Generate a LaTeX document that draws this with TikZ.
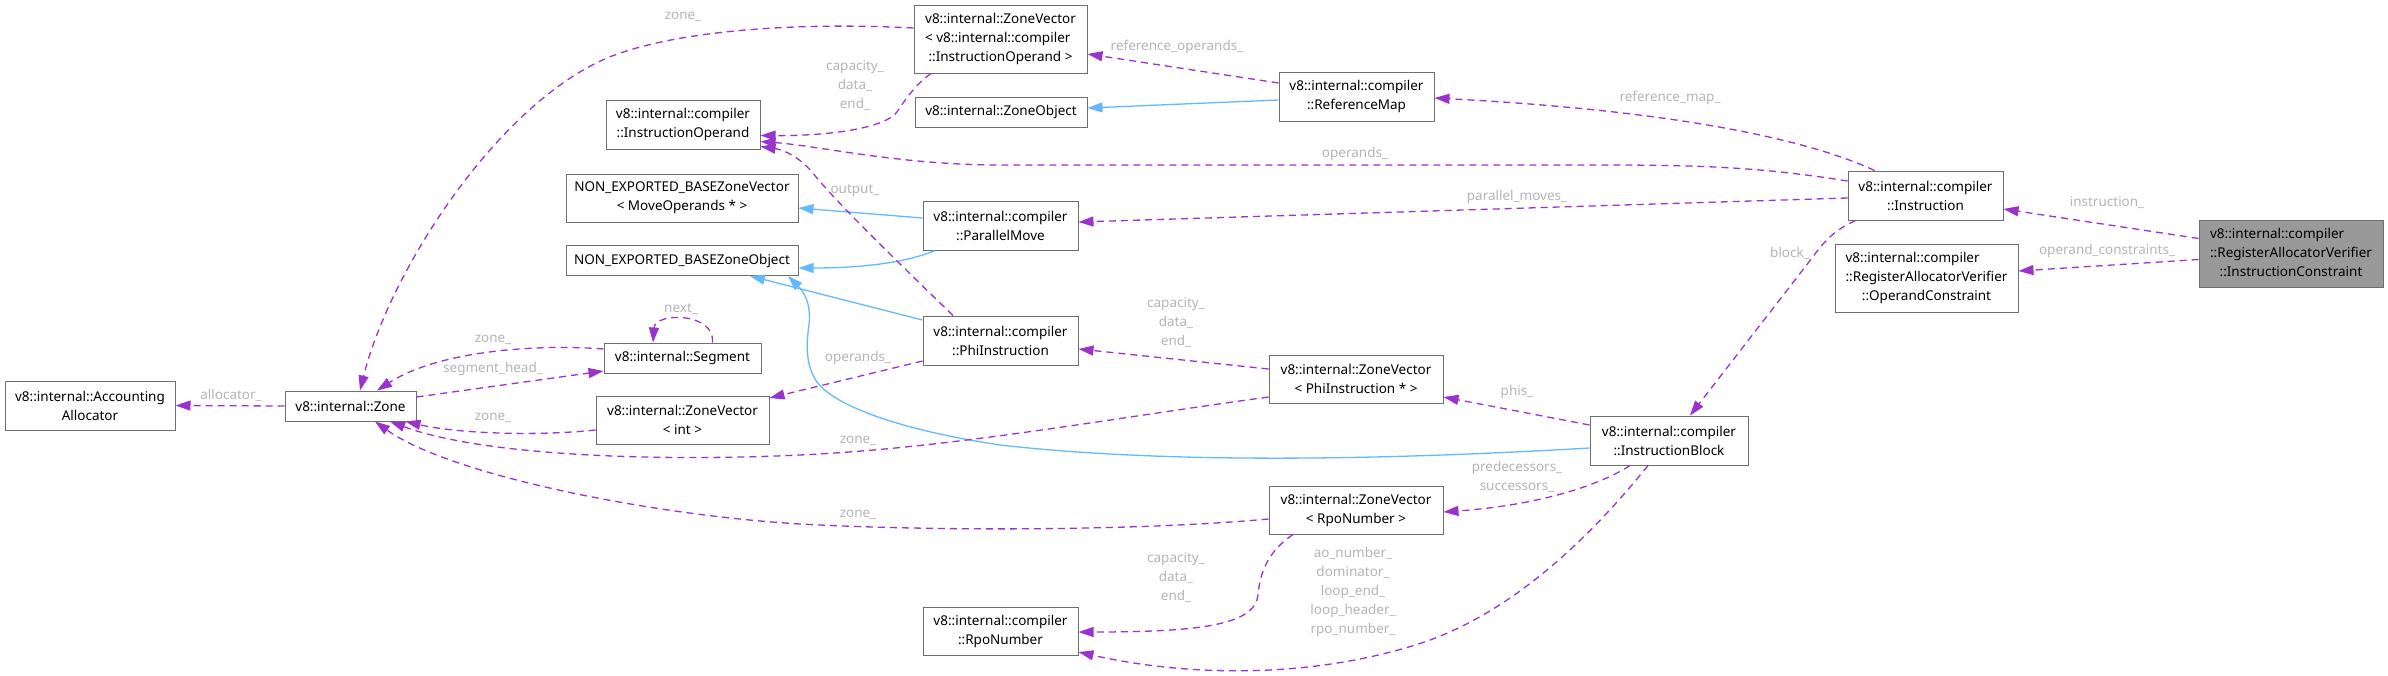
\documentclass[tikz,border=0pt]{standalone}
\usepackage{fontspec}
\setmainfont{Noto Sans}
\usetikzlibrary{arrows.meta,calc}
\definecolor{edgepurple}{HTML}{9A32CD}
\definecolor{inhblue}{HTML}{63B8FF}
\definecolor{boxgray}{HTML}{6E6E6E}
\definecolor{lblgray}{HTML}{B4B4B4}
\definecolor{mainfill}{HTML}{999999}
\newcommand{\threelines}[3]{\begin{tabular}{@{}l@{}}#1\\#2\\\multicolumn{1}{@{}c@{}}{#3}\end{tabular}}
\tikzset{
  cls/.style={draw=boxgray, line width=1pt, fill=white, inner sep=0pt, align=center,
    font=\fontsize{13.5}{19}\selectfont},
  maincls/.style={cls, fill=mainfill},
  dep/.style={draw=edgepurple, line width=1.3pt, dash pattern=on 7pt off 5pt,
    -{Triangle[length=15pt,width=10pt]}},
  inh/.style={draw=inhblue, line width=1.3pt, -{Triangle[length=15pt,width=10pt]}},
  lbl/.style={text=lblgray, inner sep=0pt, align=center, font=\fontsize{13.5}{19}\selectfont}
}
\begin{document}
\begin{tikzpicture}[x=1pt,y=-1pt]
\useasboundingbox (0,0) rectangle (2388,675);
% nodes
\node[maincls, minimum width=184pt, minimum height=67pt] (ic) at (2291,253.5) {\threelines{v8::internal::compiler}{::RegisterAllocatorVerifier}{::InstructionConstraint}};
\node[cls, minimum width=155pt, minimum height=49pt] (instr) at (1925.5,195.5) {v8::internal::compiler\\::Instruction};
\node[cls, minimum width=183pt, minimum height=68pt] (oc) at (1926.5,278) {\threelines{v8::internal::compiler}{::RegisterAllocatorVerifier}{::OperandConstraint}};
\node[cls, minimum width=155pt, minimum height=49pt] (refmap) at (1356.5,96.5) {v8::internal::compiler\\::ReferenceMap};
\node[cls, minimum width=173pt, minimum height=68pt] (zvio) at (1000.5,39) {\threelines{v8::internal::ZoneVector}{< v8::internal::compiler}{::InstructionOperand >}};
\node[cls, minimum width=172pt, minimum height=30pt] (zoneobj) at (1001,112) {v8::internal::ZoneObject};
\node[cls, minimum width=154pt, minimum height=49pt] (io) at (683,124.5) {v8::internal::compiler\\::InstructionOperand};
\node[cls, minimum width=232pt, minimum height=48pt] (nebzv) at (682,198) {NON\_EXPORTED\_BASEZoneVector\\< MoveOperands * >};
\node[cls, minimum width=232pt, minimum height=30pt] (nebzo) at (682,260.5) {NON\_EXPORTED\_BASEZoneObject};
\node[cls, minimum width=155pt, minimum height=49pt] (pm) at (1000.5,225.5) {v8::internal::compiler\\::ParallelMove};
\node[cls, minimum width=155pt, minimum height=49pt] (phi) at (1000.5,340.5) {v8::internal::compiler\\::PhiInstruction};
\node[cls, minimum width=174pt, minimum height=48pt] (zvphi) at (1356,379) {v8::internal::ZoneVector\\< PhiInstruction * >};
\node[cls, minimum width=174pt, minimum height=48pt] (zvrpo) at (1356,510) {v8::internal::ZoneVector\\< RpoNumber >};
\node[cls, minimum width=155pt, minimum height=48pt] (rpo) at (1000.5,631) {v8::internal::compiler\\::RpoNumber};
\node[cls, minimum width=158pt, minimum height=49pt] (ib) at (1669,440.5) {v8::internal::compiler\\::InstructionBlock};
\node[cls, minimum width=157pt, minimum height=30pt] (segment) at (682.5,358) {v8::internal::Segment};
\node[cls, minimum width=173pt, minimum height=48pt] (zvint) at (682.5,420) {v8::internal::ZoneVector\\< int >};
\node[cls, minimum width=131pt, minimum height=30pt] (zone) at (350.5,406) {v8::internal::Zone};
\node[cls, minimum width=170pt, minimum height=49pt] (aa) at (90,405.5) {v8::internal::Accounting\\Allocator};

% inheritance (blue)
\draw[inh] ([yshift=-3.5pt]refmap.west) -- ([yshift=4pt]zoneobj.east);
\draw[inh] ([yshift=7.5pt]pm.west) -- ([yshift=-10pt]nebzv.east);
\draw[inh] ([xshift=-65.5pt]pm.south) .. controls (900,265) and (850,268) .. ([yshift=-7.5pt]nebzo.east);
\draw[inh] ([yshift=20.5pt]phi.west) -- ([xshift=68pt]nebzo.south);
\draw[inh] ([yshift=-7.5pt]ib.west) .. controls (1350,462) and (1150,462) .. (1000,445)
  .. controls (900,430) and (830,405) .. (815,379)
  .. controls (806,363) and (806,345) .. (809,325)
  .. controls (812,300) and (800,288) .. ([xshift=106pt]nebzo.south);

% usage (purple dashed)
\draw[dep] ([yshift=15pt]ic.west) -- ([yshift=-13.5pt]instr.east);
\draw[dep] ([yshift=-6pt]ic.west) -- ([yshift=7pt]oc.east);
\draw[dep] ([xshift=-51pt]instr.north) .. controls (1820,145) and (1700,112) .. ([yshift=-1.5pt]refmap.east);
\draw[dep] ([yshift=14.5pt]instr.west) .. controls (1760,167) and (1700,165) .. (1600,165)
  -- (1000,165) .. controls (900,165) and (820,146) .. ([yshift=-17pt]io.east);
\draw[dep] ([yshift=-2.5pt]instr.west) -- ([yshift=3.5pt]pm.east);
\draw[dep] ([xshift=-70pt]instr.south) .. controls (1835,230) and (1825,240) .. (1812,258)
  -- ([xshift=21pt]ib.north);
\draw[dep] ([yshift=13.5pt]refmap.west) -- ([yshift=-15pt]zvio.east);
\draw[dep] ([xshift=-69.5pt]zvio.south) .. controls (915,85) and (905,100) .. (897,112)
  .. controls (885,128) and (830,136) .. ([yshift=-11pt]io.east);
\draw[dep] ([yshift=11pt]zvio.west) .. controls (800,22) and (680,30) .. (612,56)
  .. controls (500,100) and (390,270) .. ([xshift=9.5pt]zone.north);
\draw[dep] ([xshift=-47.5pt]phi.north) .. controls (880,245) and (830,195) .. (812,172)
  .. controls (800,158) and (785,150) .. ([yshift=-22pt]io.east);
\draw[dep] ([yshift=-20.5pt]phi.west) -- ([yshift=22pt]zvint.east);
\draw[dep] ([yshift=10pt]zvphi.west) -- ([yshift=-8.5pt]phi.east);
\draw[dep] ([yshift=-18pt]zvphi.west) .. controls (1100,420) and (950,448) .. (800,455)
  .. controls (650,462) and (480,455) .. ([xshift=39.5pt]zone.south);
\draw[dep] ([yshift=15.5pt]ib.west) -- ([yshift=-18pt]zvphi.east);
\draw[dep] ([xshift=-39pt]ib.south) .. controls (1600,485) and (1540,505) .. ([yshift=-2pt]zvrpo.east);
\draw[dep] ([xshift=-21pt]ib.south) .. controls (1580,550) and (1500,620) .. (1412,646)
  .. controls (1300,680) and (1180,675) .. ([yshift=-21pt]rpo.east);
\draw[dep] ([xshift=-63pt]zvrpo.south) .. controls (1270,550) and (1260,570) .. (1258,595)
  .. controls (1255,625) and (1200,632) .. ([yshift=-1pt]rpo.east);
\draw[dep] ([yshift=-9pt]zvrpo.west) .. controls (1150,530) and (950,532) .. (800,524)
  .. controls (650,515) and (450,475) .. ([xshift=24.5pt]zone.south);
\draw[dep] ([yshift=-10pt]zvint.west) .. controls (540,436) and (460,434) .. ([xshift=55pt]zone.south);
\draw[dep] ([yshift=9pt]segment.west) .. controls (540,344) and (440,350) .. ([xshift=26.5pt]zone.north);
\draw[dep] ([yshift=9pt]zone.east) -- ([yshift=-13pt]segment.west);
\draw[dep] ([xshift=30pt]segment.north) .. controls (715,312) and (655,312) .. ([xshift=-29.5pt]segment.north);
\draw[dep] (zone.west) -- (aa.east);

% labels
\node[lbl] (l1) at (2107,203) {instruction\_};
\node[lbl] (l2) at (2107,251) {operand\_constraints\_};
\node[lbl] (l3) at (1670,98) {reference\_map\_};
\node[lbl] (l4) at (1355,154) {operands\_};
\node[lbl] (l5) at (1517,197) {parallel\_moves\_};
\node[lbl] (l6) at (1790,253) {block\_};
\node[lbl] (l7) at (1177,47) {reference\_operands\_};
\node[lbl] (l8) at (855,86) {capacity\_\\data\_\\end\_};
\node[lbl] (l9) at (683,17) {zone\_};
\node[lbl] (l10) at (855,191) {output\_};
\node[lbl] (l11) at (858,358) {operands\_};
\node[lbl] (l12) at (1176,323) {capacity\_\\data\_\\end\_};
\node[lbl] (l13) at (858,441) {zone\_};
\node[lbl] (l14) at (1517,392) {phis\_};
\node[lbl] (l15) at (1517,476.5) {predecessors\_\\successors\_};
\node[lbl] (l16) at (1353,592) {ao\_number\_\\dominator\_\\loop\_end\_\\loop\_header\_\\rpo\_number\_};
\node[lbl] (l17) at (1176,578) {capacity\_\\data\_\\end\_};
\node[lbl] (l18) at (858,515) {zone\_};
\node[lbl] (l19) at (493,418) {zone\_};
\node[lbl] (l20) at (493,340) {zone\_};
\node[lbl] (l21) at (493,369) {segment\_head\_};
\node[lbl] (l22) at (681,309) {next\_};
\node[lbl] (l23) at (231,395) {allocator\_};
\end{tikzpicture}
\end{document}
